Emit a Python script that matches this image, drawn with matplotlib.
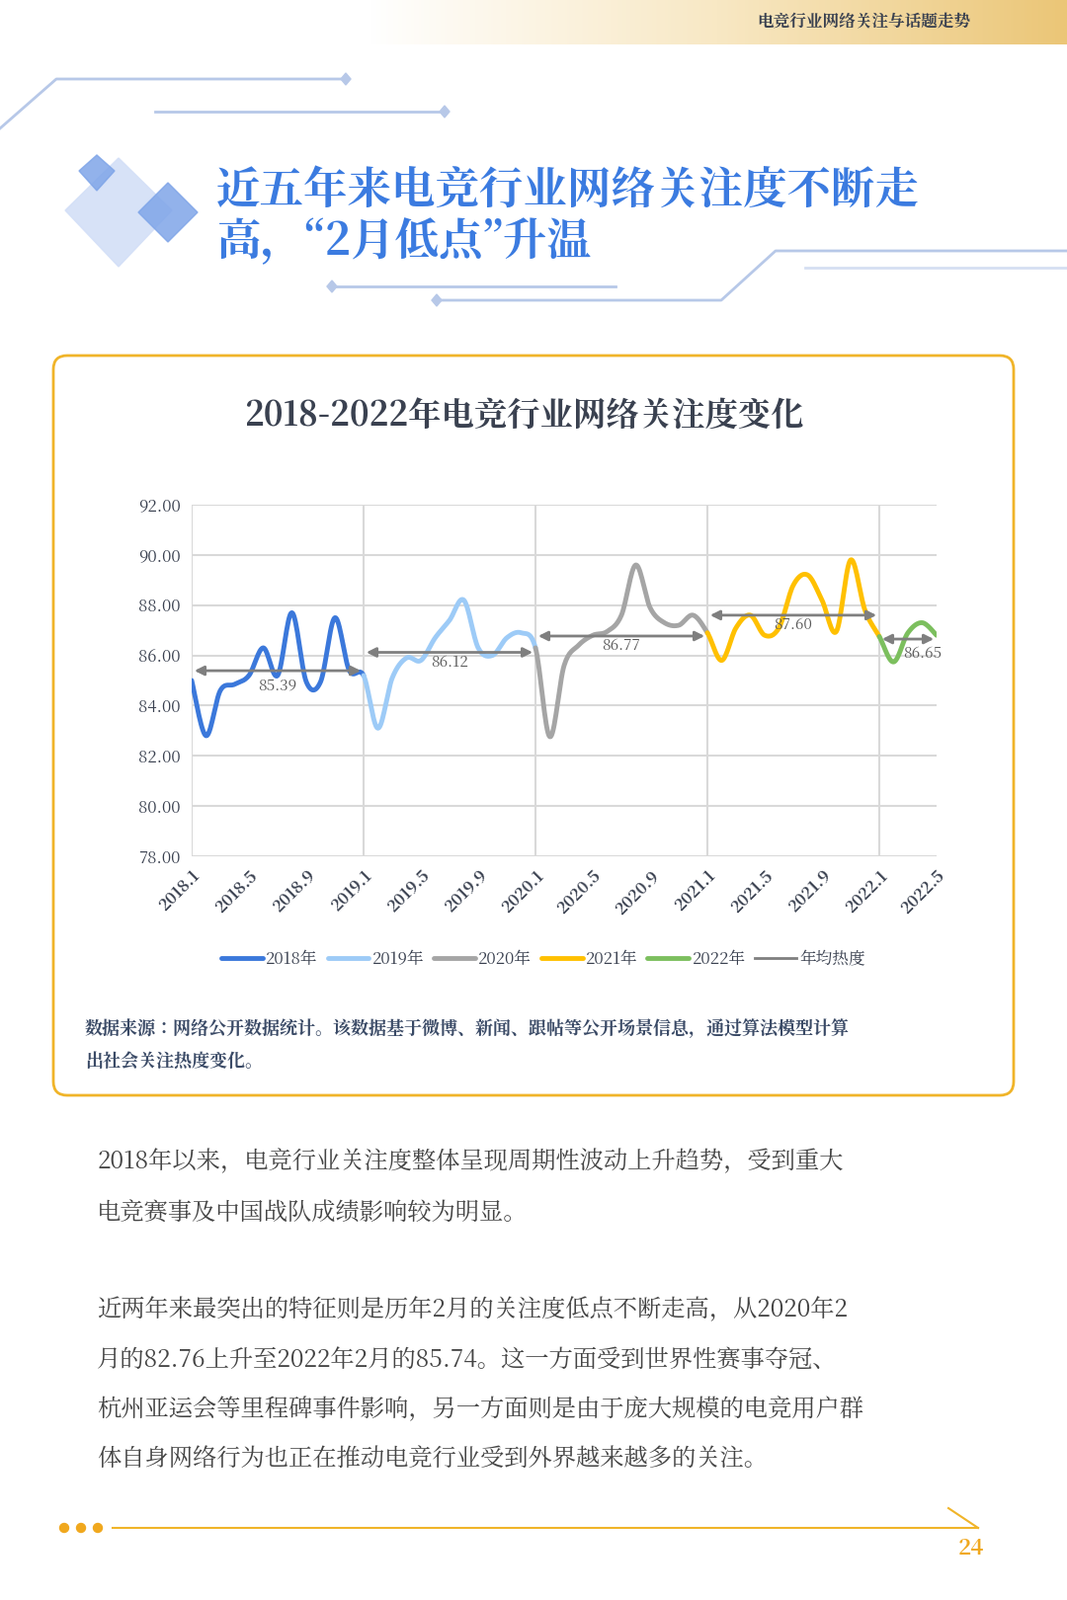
import numpy as np
import matplotlib
matplotlib.use("Agg")
import matplotlib.pyplot as plt
from matplotlib import font_manager as fm
from matplotlib.patches import FancyBboxPatch, Polygon
from matplotlib.colors import LinearSegmentedColormap
from matplotlib.lines import Line2D

cjk = None
for f in fm.fontManager.ttflist:
    if "CJK" in f.name and "SC" in f.name:
        cjk = f.name; break
if cjk is None:
    for f in fm.fontManager.ttflist:
        if "CJK" in f.name:
            cjk = f.name; break
plt.rcParams["font.family"] = "sans-serif"
plt.rcParams["font.sans-serif"] = [cjk or "Noto Sans CJK SC", "DejaVu Sans"]

# ---------------- data ----------------
months = ["2018.1","2018.2","2018.3","2018.4","2018.5","2018.6","2018.7","2018.8","2018.9","2018.10","2018.11","2018.12",
          "2019.1","2019.2","2019.3","2019.4","2019.5","2019.6","2019.7","2019.8","2019.9","2019.10","2019.11","2019.12",
          "2020.1","2020.2","2020.3","2020.4","2020.5","2020.6","2020.7","2020.8","2020.9","2020.10","2020.11","2020.12",
          "2021.1","2021.2","2021.3","2021.4","2021.5","2021.6","2021.7","2021.8","2021.9","2021.10","2021.11","2021.12",
          "2022.1","2022.2","2022.3","2022.4","2022.5"]
v2018 = [85.0, 82.8, 84.6, 84.85, 85.2, 86.3, 85.2, 87.7, 84.95, 84.95, 87.5, 85.4]
v2019 = [85.2, 83.1, 85.1, 85.9, 85.8, 86.7, 87.4, 88.2, 86.3, 86.0, 86.7, 86.9]
v2020 = [86.3, 82.76, 85.6, 86.4, 86.8, 86.95, 87.6, 89.6, 87.9, 87.3, 87.2, 87.6]
v2021 = [86.9, 85.8, 87.1, 87.6, 86.8, 87.1, 88.8, 89.2, 88.2, 86.95, 89.8, 87.8]
v2022 = [86.75, 85.74, 86.9, 87.3, 86.8]
series_names = ["2018年", "2019年", "2020年", "2021年", "2022年"]
series_colors = ["#3B78DB", "#9DCBF7", "#A5A5A5", "#FFC000", "#7CBF5E"]
year_avgs = [85.39, 86.12, 86.77, 87.60, 86.65]
avg_legend = "年均热度"
yticks = [78, 80, 82, 84, 86, 88, 90, 92]
xtick_step = 4

W, H = 1080, 1620
fig = plt.figure(figsize=(W/100, H/100), dpi=100)
bg = fig.add_axes([0, 0, 1, 1]); bg.set_xlim(0, W); bg.set_ylim(H, 0); bg.axis("off")

grad = np.linspace(0, 1, 300)[None, :]
cmap = LinearSegmentedColormap.from_list("g", ["#FFFFFF", "#F8E8C4", "#EBC677"])
bg.imshow(grad, extent=[372, W, 45, 0], cmap=cmap, aspect="auto", zorder=0)
bg.text(982, 23, "电竞行业网络关注与话题走势", ha="right", va="center", fontsize=12,
        fontweight="bold", color="#3A4150")

lc = "#B7C8E8"
bg.plot([0, 57, 348], [130, 80, 80], color=lc, lw=2)
bg.plot([157, 449], [113, 113], color=lc, lw=2)
bg.plot([338, 623], [290, 290], color=lc, lw=2)
bg.plot([442, 730, 785, W], [304, 304, 254, 254], color=lc, lw=2)
bg.plot([815, W], [271, 271], color="#D5DFF2", lw=2)
for (x, y) in [(350, 80), (450, 113), (336, 290), (442, 304)]:
    bg.add_patch(Polygon([[x-5, y], [x, y-6], [x+5, y], [x, y+6]], color=lc))

bg.add_patch(Polygon([[66, 213], [120, 160], [174, 213], [120, 270]], color="#D3DFF7", alpha=0.9))
bg.add_patch(Polygon([[80, 173], [98, 157], [116, 173], [98, 193]], color="#7FA5E8", alpha=0.85))
bg.add_patch(Polygon([[140, 215], [170, 185], [200, 215], [170, 245]], color="#7FA5E8", alpha=0.85))

bg.text(219, 194, "近五年来电竞行业网络关注度不断走", fontsize=32, fontweight="bold",
        color="#3B7BE0", va="center", ha="left")
bg.text(219, 246, "高，“2月低点”升温", fontsize=32, fontweight="bold",
        color="#3B7BE0", va="center", ha="left")

bg.add_patch(FancyBboxPatch((54, 360), 972, 749, boxstyle="round,pad=0,rounding_size=14",
                            fill=False, ec="#F0B429", lw=2))
bg.text(530, 422, "2018-2022年电竞行业网络关注度变化", fontsize=24, fontweight="bold",
        color="#3A4150", ha="center", va="center")

# ---------------- chart ----------------
ax = fig.add_axes([194/W, 1-867/H, (948-194)/W, (867-511)/H])
allv = np.array(v2018 + v2019 + v2020 + v2021 + v2022)
n = len(allv)
x = np.arange(n)

def catmull(xs, ys, k=16):
    P = np.column_stack([xs, ys]).astype(float)
    P = np.vstack([P[0], P, P[-1]])
    out = []
    for i in range(1, len(P)-2):
        p0, p1, p2, p3 = P[i-1], P[i], P[i+1], P[i+2]
        t = np.linspace(0, 1, k, endpoint=False)[:, None]
        seg = 0.5*((2*p1) + (-p0+p2)*t + (2*p0-5*p1+4*p2-p3)*t**2 + (-p0+3*p1-3*p2+p3)*t**3)
        out.append(seg)
    out.append(P[-2][None, :])
    return np.vstack(out)

curve = catmull(x, allv)
starts = [0, 12, 24, 36, 48]
ends = [12, 24, 36, 48, n-1]
for s, e, c, nm in zip(starts, ends, series_colors, series_names):
    m = (curve[:, 0] >= s) & (curve[:, 0] <= e)
    ax.plot(curve[m, 0], curve[m, 1], color=c, lw=3.5, solid_capstyle="round", label=nm, zorder=3)

for s, e, a in zip(starts, ends, year_avgs):
    ax.annotate("", xy=(s, a), xytext=(e, a),
                arrowprops=dict(arrowstyle="<|-|>", color="#7F7F7F", lw=2, mutation_scale=14), zorder=4)
label_pos = [(6, -0.6), (18, -0.4), (30, -0.4), (42, -0.4), (51, -0.6)]
for (lx, dy), a in zip(label_pos, year_avgs):
    ax.text(lx, a+dy, f"{a:.2f}", ha="center", va="center", fontsize=11, color="#595959",
            style="italic", zorder=5)

ax.set_xlim(0, n-1)
ax.set_ylim(78, 92)
ax.set_yticks(yticks)
ax.set_yticklabels([f"{t:.2f}" for t in yticks], fontsize=12, color="#3A4150", style="italic")
ax.set_xticks(x[::xtick_step])
ax.set_xticklabels(months[::xtick_step], rotation=45, ha="right", rotation_mode="anchor",
                   fontsize=12, fontweight="bold", color="#3A4150", style="italic")
ax.grid(axis="y", color="#D9D9D9", lw=1.5)
for s in starts:
    ax.axvline(s, color="#D9D9D9", lw=1.5, zorder=0)
for sp in ax.spines.values():
    sp.set_visible(False)
ax.tick_params(length=0, pad=8)

h, l = ax.get_legend_handles_labels()
h.append(Line2D([], [], color="#7F7F7F", lw=2))
l.append(avg_legend)
leg = fig.legend(h, l, loc="center", bbox_to_anchor=(550/W, 1-971/H), ncol=6, frameon=False,
                 fontsize=12, handlelength=2.5, columnspacing=0.6, handletextpad=0.2)
for t in leg.get_texts():
    t.set_color("#3A4150")

bg.text(86, 1042, "数据来源：网络公开数据统计。该数据基于微博、新闻、跟帖等公开场景信息，通过算法模型计算",
        fontsize=13, fontweight="bold", color="#3A4A66", va="center")
bg.text(86, 1075, "出社会关注热度变化。", fontsize=13, fontweight="bold", color="#3A4A66", va="center")

body = [(1176, "2018年以来，电竞行业关注度整体呈现周期性波动上升趋势，受到重大"),
        (1228, "电竞赛事及中国战队成绩影响较为明显。"),
        (1326, "近两年来最突出的特征则是历年2月的关注度低点不断走高，从2020年2"),
        (1377, "月的82.76上升至2022年2月的85.74。这一方面受到世界性赛事夺冠、"),
        (1427, "杭州亚运会等里程碑事件影响，另一方面则是由于庞大规模的电竞用户群"),
        (1478, "体自身网络行为也正在推动电竞行业受到外界越来越多的关注。")]
for y, t in body:
    bg.text(98, y, t, fontsize=17.5, color="#444444", va="center")

for xd in [65, 82, 99]:
    bg.add_patch(plt.Circle((xd, 1547), 4.5, color="#F0A81E"))
bg.plot([114, 990], [1547, 1547], color="#F0B429", lw=1.5)
bg.plot([960, 990], [1527, 1547], color="#F0B429", lw=1.5)
bg.text(983, 1568, "24", fontsize=16, fontweight="bold", color="#F0A81E", ha="center",
        va="center", style="italic")

fig.savefig("out.png", dpi=100)
